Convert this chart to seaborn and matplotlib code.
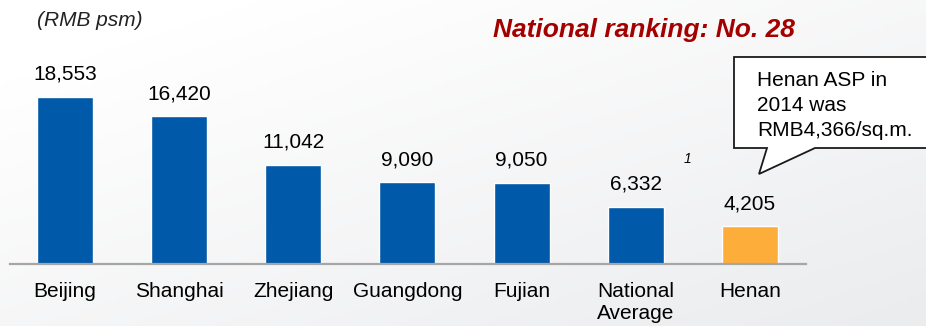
import numpy as np
import pandas as pd
import matplotlib
matplotlib.use("Agg")
import matplotlib.pyplot as plt
from matplotlib.patches import Polygon
import seaborn as sns

# Average selling price by province (RMB per sq.m.)
regions = ["Beijing", "Shanghai", "Zhejiang", "Guangdong", "Fujian", "National\nAverage", "Henan"]
asp = [18553, 16420, 11042, 9090, 9050, 6332, 4205]
bar_colors = ["#0059A9", "#0059A9", "#0059A9", "#0059A9", "#0059A9", "#0059A9", "#FDAD3A"]

unit_label = "(RMB psm)"
ranking_label = "National ranking: No. 28"
callout_lines = ["Henan ASP in", "2014 was", "RMB4,366/sq.m."]
footnote_mark = "1"

sns.set_style("white")
plt.rcParams["font.family"] = ["Liberation Sans", "DejaVu Sans"]

W, H = 926, 326
fig = plt.figure(figsize=(W / 100, H / 100), dpi=100)

# soft diagonal background wash
bg = fig.add_axes([0, 0, 1, 1], zorder=-5)
gx, gy = np.meshgrid(np.linspace(0, 1, 200), np.linspace(0, 1, 80))
grad = np.clip(0.55 * gx + 0.6 * gy - 0.15, 0, 1)
bg.imshow(grad, cmap=matplotlib.colors.LinearSegmentedColormap.from_list(
    "wash", ["#FFFFFF", "#EBECEE"]), aspect="auto", extent=[0, 1, 0, 1], origin="upper")
bg.set_axis_off()

# main bar axes (baseline at y=264 px)
ymax = 20000
px_per_unit = 167 / 18553
ax_h = ymax * px_per_unit
ax = fig.add_axes([10 / W, (H - 264) / H, (806 - 10) / W, ax_h / H])
ax.set_facecolor("none")

df = pd.DataFrame({"region": regions, "asp": asp})
sns.barplot(data=df, x="region", y="asp", hue="region", palette=bar_colors,
            width=0.49, legend=False, ax=ax, saturation=1)

ax.set_xlim(-0.48, 6.49)
ax.set_ylim(0, ymax)
ax.set_xlabel("")
ax.set_ylabel("")
ax.set_yticks([])
for s in ["top", "right", "left"]:
    ax.spines[s].set_visible(False)
ax.spines["bottom"].set_color("#A6A6A6")
ax.spines["bottom"].set_linewidth(1.6)
ax.tick_params(axis="x", length=0, pad=13, labelsize=15, labelcolor="black")
for lbl in ax.get_xticklabels():
    lbl.set_verticalalignment("top")

# value labels above bars
for i, v in enumerate(asp):
    ax.annotate(f"{v:,}", xy=(i, v), xytext=(0, 12.3), textcoords="offset points",
                ha="center", va="baseline", fontsize=15, color="black",
                annotation_clip=False)

# footnote marker next to the national average
ax.text(5.455, 11620, footnote_mark, fontsize=10, style="italic",
        ha="center", va="center", color="black")

# headings
fig.text(37 / W, 1 - 21 / H, unit_label, fontsize=15, style="italic",
         ha="left", va="center", color="#222222")
fig.text(493 / W, 1 - 30 / H, ranking_label, fontsize=19, style="italic",
         fontweight="bold", ha="left", va="center", color="#A50000")

# speech-bubble callout
pts_px = [(734, 57), (940, 57), (940, 148), (815, 148), (759, 174), (767, 148), (734, 148)]
pts = [(x / W, 1 - y / H) for x, y in pts_px]
fig.patches.append(Polygon(pts, closed=True, transform=fig.transFigure,
                           facecolor="white", edgecolor="#1A1A1A", linewidth=1.3,
                           zorder=3))
for k, line in enumerate(callout_lines):
    fig.text(757 / W, 1 - (80 + 25.5 * k) / H, line, fontsize=15,
             ha="left", va="center", color="black", zorder=4)

fig.savefig("out.png", dpi=100)
